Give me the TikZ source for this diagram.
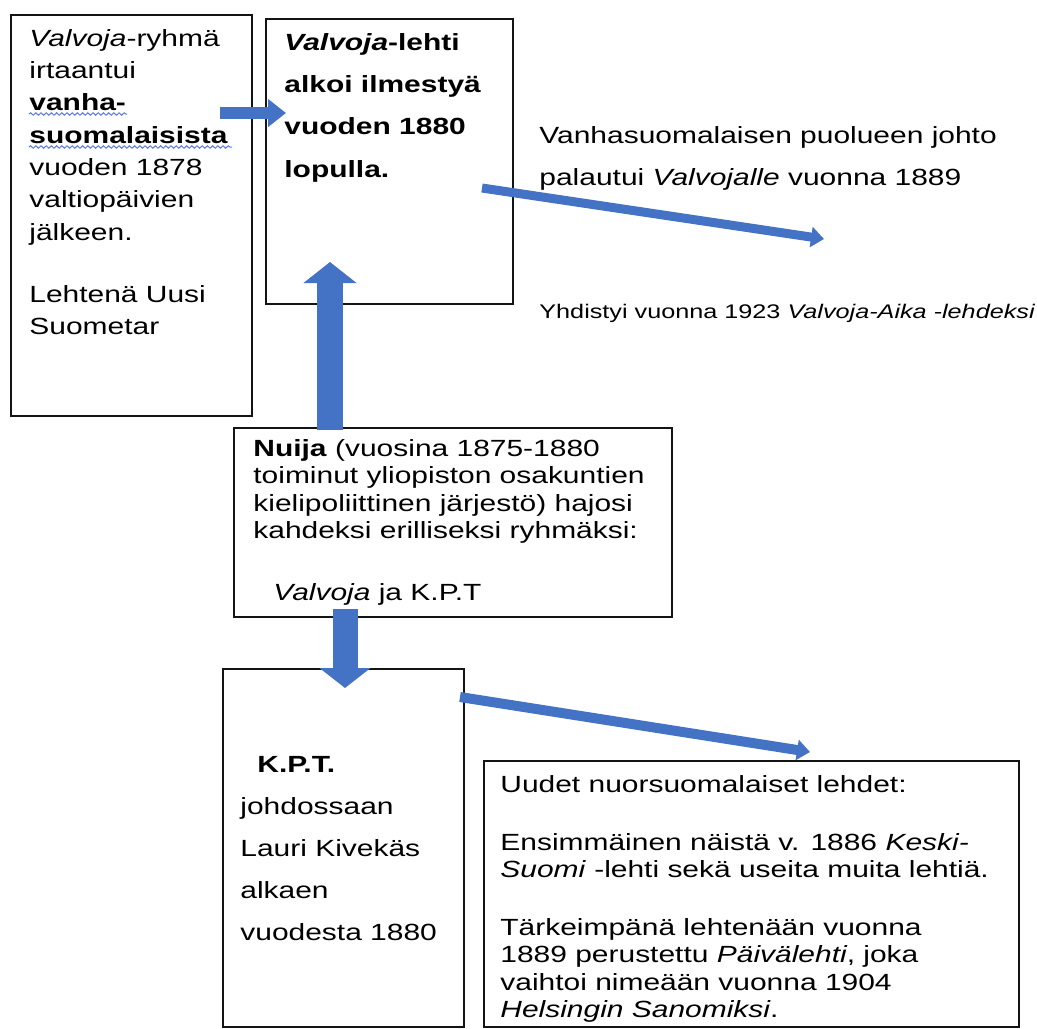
\documentclass[tikz,border=0pt]{standalone}
\usepackage{fontspec}
\setmainfont{Liberation Sans}[FakeStretch=1.28]
\usepackage{tikz}
\usetikzlibrary{arrows.meta, positioning, calc, decorations.pathmorphing}
\definecolor{mydark}{RGB}{20,20,20}
\definecolor{myblue}{RGB}{68,114,196}
\definecolor{myspell}{RGB}{90,120,235}
\tikzset{
  box/.style={rectangle, draw=mydark, line width=1pt, inner sep=0pt,
    anchor=north west},
  txt/.style={anchor=north west, inner sep=0pt, align=left,
    font=\fontsize{11.7}{#1}\selectfont},
  smalltxt/.style={anchor=north west, inner sep=0pt, align=left,
    font=\fontsize{9.85}{12}\selectfont},
  blockarrow/.style n args={3}{draw=myblue, line width=#1,
    -{Triangle[width=#2, length=#3]}},
  spell/.style={draw=myspell, line width=0.5pt, decorate,
    decoration={snake, amplitude=0.6pt, segment length=2.6pt}}
}

\begin{document}
\begin{tikzpicture}[x=0.5pt, y=-0.5pt]
  \useasboundingbox (0,0) rectangle (1037,1028);

  % ── Boxes ───────────────────────────────────────────────────────────────
  \node[box, minimum width=120.5pt, minimum height=200.5pt] (valvryhma) at (10,14) {};
  \node[box, minimum width=123.5pt, minimum height=142.5pt] (lehti) at (265,18) {};
  \node[box, minimum width=219pt, minimum height=94.5pt] (nuija) at (233,427) {};
  \node[box, minimum width=120.5pt, minimum height=179pt] (kpt) at (222,668) {};
  \node[box, minimum width=267.5pt, minimum height=133pt] (uudet) at (483,760) {};

  % ── Texts in the boxes ──────────────────────────────────────────────────
  \node[txt=16.15pt] (valvryhmatxt) at ($(valvryhma.north west)+(19,15)$)
    {\textit{Valvoja}-ryhmä\\irtaantui\\\textbf{vanha-}\\\textbf{suomalaisista}\\
     vuoden 1878\\valtiopäivien\\jälkeen.\\[14.85pt]Lehtenä Uusi\\Suometar};
  \node[txt=21.15pt] (lehtitxt) at ($(lehti.north west)+(19,15)$)
    {\textbf{\textit{Valvoja}-lehti}\\\textbf{alkoi ilmestyä}\\\textbf{vuoden 1880}\\\textbf{lopulla.}};
  \node[txt=13.7pt] (nuijatxt) at ($(nuija.north west)+(20,12)$)
    {\textbf{Nuija} (vuosina 1875-1880\\toiminut yliopiston osakuntien\\
     kielipoliittinen järjestö) hajosi\\kahdeksi erilliseksi ryhmäksi:\\[17.3pt]
     \hspace*{10pt}\textit{Valvoja} ja K.P.T};
  \node[txt=21pt] (kpttxt) at ($(kpt.north west)+(18,88)$)
    {\hspace*{8.5pt}\textbf{K.P.T.}\\johdossaan\\Lauri Kivekäs\\alkaen\\vuodesta 1880};
  \node[txt=13.65pt] (uudettxt) at ($(uudet.north west)+(17,15)$)
    {Uudet nuorsuomalaiset lehdet:\\[15.35pt]
     Ensimmäinen näistä v. 1886 \textit{Keski-}\\\textit{Suomi} -lehti sekä useita muita lehtiä.\\[15.35pt]
     Tärkeimpänä lehtenään vuonna\\1889 perustettu \textit{Päivälehti}, joka\\
     vaihtoi nimeään vuonna 1904\\\textit{Helsingin Sanomiksi}.};

  % ── Free texts on the right ─────────────────────────────────────────────
  \node[txt=21pt] (johto) at ($(lehti.north east)+(25,108)$)
    {Vanhasuomalaisen puolueen johto\\palautui \textit{Valvojalle} vuonna 1889};
  \node[smalltxt] (yhdistyi) at ($(lehti.north east)+(25,286)$)
    {Yhdistyi vuonna 1923 \textit{Valvoja-Aika -lehdeksi}};

  % ── Spelling marks under vanha-suomalaisista ────────────────────────────
  \draw[spell] ($(valvryhma.north west)+(19,100)$) -- ($(valvryhma.north west)+(117,100)$);
  \draw[spell] ($(valvryhma.north west)+(19,133)$) -- ($(valvryhma.north west)+(222,133)$);

  % ── Block arrows ────────────────────────────────────────────────────────
  \coordinate (johtotip) at ($(lehti.north east)+(310,221)$);
  \draw[blockarrow={6pt}{13.5pt}{9pt}]
    ($(valvryhma.north east)+(-33,99)$) -- ($(lehti.north west)+(21,95)$);
  \draw[blockarrow={13pt}{26pt}{10.5pt}]
    ($(nuija.north west)+(97,3)$) -- ($(lehti.south west)+(65,-43)$);
  \draw[blockarrow={12.5pt}{25pt}{10pt}]
    ($(nuija.south west)+(112,-9)$) -- ($(kpt.north west)+(123,20)$);
  \draw[blockarrow={4.5pt}{10pt}{6.5pt}]
    ($(lehti.north east)+(-32,170)$) -- (johtotip);
  \draw[blockarrow={5pt}{10pt}{6.5pt}]
    ($(kpt.north east)+(-5,29)$) -- ($(uudet.north west)+(327,-8)$);
\end{tikzpicture}
\end{document}
